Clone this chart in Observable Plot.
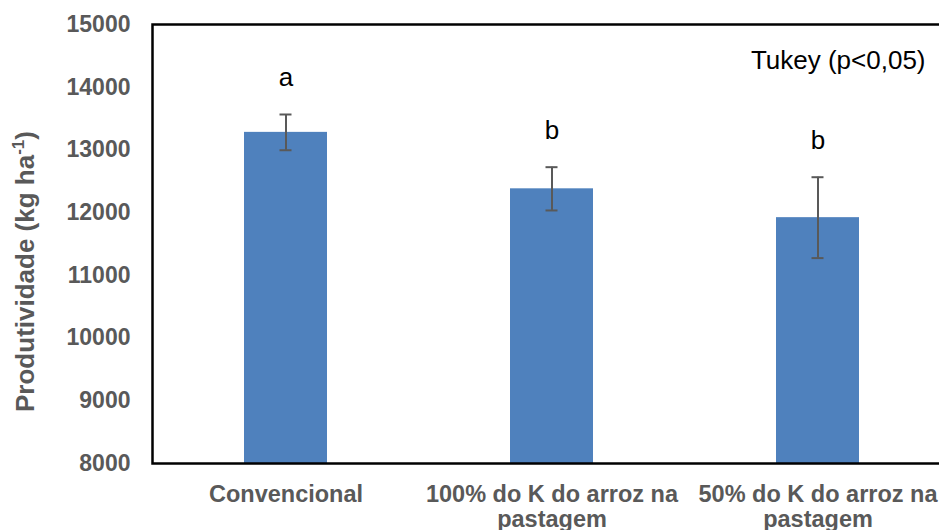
<!DOCTYPE html>
<html>
<head>
<meta charset="utf-8">
<script src="https://cdn.jsdelivr.net/npm/d3@7"></script>
<script src="https://cdn.jsdelivr.net/npm/@observablehq/plot@0.6"></script>
<style>
  html, body { margin: 0; padding: 0; background: #fff; overflow: hidden; }
  #chart { width: 939px; height: 530px; }
</style>
</head>
<body>
<div id="chart"></div>
<script>
const categories = ["Convencional", "100% do K do arroz na pastagem", "50% do K do arroz na pastagem"];
const means = [13280, 12380, 11920];
const errors = [285, 345, 645];
const letters = ["a", "b", "b"];
const yTicks = [8000, 9000, 10000, 11000, 12000, 13000, 14000, 15000];
const yTitle = "Produtividade (kg ha-1)";
const note = "Tukey (p<0,05)";

const data = categories.map((c, i) => ({cat: c, mean: means[i], err: errors[i], letter: letters[i]}));
const base = yTicks[0];

const chart = Plot.plot({
  width: 939,
  height: 530,
  marginLeft: 152,
  marginRight: -11,
  marginTop: 24,
  marginBottom: 67,
  style: {fontFamily: "'Liberation Sans', Arial, sans-serif", background: "#fff"},
  x: {domain: categories, paddingInner: 0.688, paddingOuter: 0.344, align: 0.5},
  y: {domain: [yTicks[0], yTicks[yTicks.length - 1]]},
  marks: [
    Plot.barY(data, {x: "cat", y1: base, y2: "mean", fill: "#4F81BD"}),
    Plot.ruleX(data, {x: "cat", y1: d => d.mean - d.err, y2: d => d.mean + d.err, stroke: "#595959", strokeWidth: 2}),
    Plot.tickY(data, {x: "cat", y: d => d.mean + d.err, stroke: "#595959", strokeWidth: 2, insetLeft: 35.5, insetRight: 35.5}),
    Plot.tickY(data, {x: "cat", y: d => d.mean - d.err, stroke: "#595959", strokeWidth: 2, insetLeft: 35.5, insetRight: 35.5}),
    Plot.text(data, {x: "cat", y: d => d.mean + d.err, text: "letter", dy: -28, lineAnchor: "bottom", fontSize: 26, fill: "#000"}),
    Plot.text([note], {frameAnchor: "top-right", textAnchor: "end", lineAnchor: "bottom", dx: -25, dy: 44, fontSize: 26, fill: "#000"}),
    Plot.text([yTitle], {frameAnchor: "left", textAnchor: "middle", lineAnchor: "middle", rotate: -90, dx: -127, dy: 27.5, fontSize: 26, fontWeight: "bold", fill: "#595959"}),
    Plot.axisY({ticks: yTicks, tickSize: 0, tickPadding: 22, tickFormat: d => String(d), fontSize: 23, fontWeight: "bold", fill: "#595959", label: null}),
    Plot.axisX({tickSize: 0, tickPadding: 21, tickFormat: d => d.replace(" pastagem", "\npastagem"), lineHeight: 1.05, fontSize: 23.5, fontWeight: "bold", fill: "#595959", label: null}),
    Plot.frame({stroke: "#000", strokeWidth: 2.5})
  ]
});

document.getElementById("chart").appendChild(chart);

// Superscript "-1" in y-axis title
const ns = "http://www.w3.org/2000/svg";
chart.querySelectorAll("text").forEach(t => {
  if (t.textContent === yTitle) {
    t.textContent = "";
    const a = document.createElementNS(ns, "tspan");
    a.textContent = "Produtividade (kg ha";
    const s = document.createElementNS(ns, "tspan");
    s.textContent = "-1";
    s.setAttribute("font-size", "17");
    s.setAttribute("dy", "-10");
    const b = document.createElementNS(ns, "tspan");
    b.textContent = ")";
    b.setAttribute("dy", "10");
    t.appendChild(a); t.appendChild(s); t.appendChild(b);
  }
});
</script>
</body>
</html>
